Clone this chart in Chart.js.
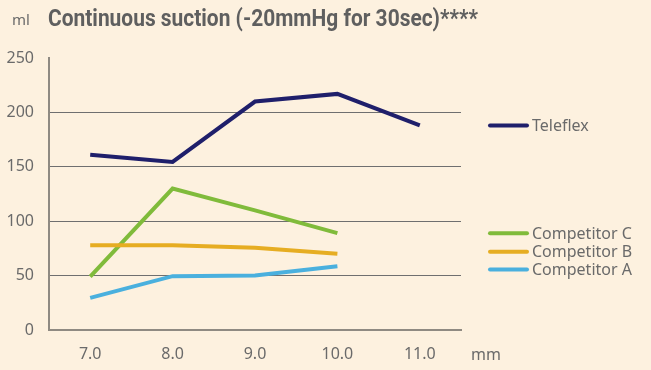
<!DOCTYPE html>
<html>
<head>
<meta charset="utf-8">
<script src="https://cdn.jsdelivr.net/npm/chart.js@4/dist/chart.umd.min.js"></script>
<style>
  html, body { margin: 0; padding: 0; background: #fdf1df; }
  #wrap { width: 651px; height: 370px; position: relative; }
</style>
</head>
<body>
<div id="wrap"><canvas id="suction"></canvas></div>
<script>
// sizes in mm
const sizes = ['7.0', '8.0', '9.0', '10.0', '11.0'];
const teleflex = [161, 154.5, 210, 217, 188];
const competitorC = [49, 130, 110, 89, null];
const competitorB = [78, 78, 75.5, 70, null];
const competitorA = [29.5, 49.5, 50, 58.5, null];

const seriesNames = ['Teleflex', 'Competitor C', 'Competitor B', 'Competitor A'];
const seriesColors = ['#1f1f6b', '#80bb3b', '#e6ad22', '#4ab0de'];
// where each legend entry sits (in ml, on the y scale)
const legendAt = [188, 89, 72, 55.5];

const titleText = 'Continuous suction (-20mmHg for 30sec)****';
const textGray = '#6a6a6a';

const annotations = {
  id: 'annotations',
  afterDraw(chart) {
    const ctx = chart.ctx;
    const y = chart.scales.y;
    ctx.save();
    ctx.textBaseline = 'middle';

    ctx.fillStyle = textGray;
    ctx.font = '15px "Noto Sans"';
    ctx.fillText('ml', 12, 21);

    // title: fit to the 430px it takes in the original
    ctx.fillStyle = '#5f5f5f';
    ctx.font = 'bold 23px Roboto';
    const w = ctx.measureText(titleText).width;
    ctx.save();
    ctx.translate(48, 20);
    ctx.scale(430 / w, 1);
    ctx.fillText(titleText, 0, 0);
    ctx.restore();

    ctx.fillStyle = textGray;
    ctx.font = '16px "Noto Sans"';
    ctx.fillText('mm', 471, 355);

    seriesNames.forEach((name, i) => {
      const py = y.getPixelForValue(legendAt[i]);
      ctx.strokeStyle = seriesColors[i];
      ctx.lineWidth = 4;
      ctx.lineCap = 'round';
      ctx.beginPath();
      ctx.moveTo(490, py);
      ctx.lineTo(527, py);
      ctx.stroke();
      ctx.fillStyle = textGray;
      ctx.font = '16px "Noto Sans"';
      ctx.fillText(name, 532, py + 1);
    });
    ctx.restore();
  }
};

const datasets = seriesNames.map((name, i) => ({
  label: name,
  data: [teleflex, competitorC, competitorB, competitorA][i],
  borderColor: seriesColors[i],
  backgroundColor: seriesColors[i],
  borderWidth: 4,
  pointRadius: 0,
  tension: 0,
  spanGaps: false
})).reverse();

new Chart(document.getElementById('suction'), {
  type: 'line',
  data: { labels: sizes, datasets },
  options: {
    responsive: true,
    maintainAspectRatio: false,
    animation: false,
    layout: { padding: { left: 0, right: 190, top: 58, bottom: 0 } },
    plugins: { legend: { display: false }, tooltip: { enabled: false } },
    scales: {
      x: {
        offset: true,
        grid: { display: false, drawTicks: false },
        border: { display: true, color: '#8f8a82', width: 2 },
        ticks: { color: textGray, font: { family: 'Noto Sans', size: 16 }, padding: 15, maxRotation: 0 },
        afterFit: (s) => { s.height = 40; }
      },
      y: {
        min: 0,
        max: 250,
        grid: {
          drawTicks: false,
          color: (c) => (c.tick.value === 0 || c.tick.value === 250) ? 'rgba(0,0,0,0)' : '#6f6f6f',
          lineWidth: 1
        },
        border: { display: true, color: '#8f8a82', width: 2 },
        ticks: { stepSize: 50, color: textGray, font: { family: 'Noto Sans', size: 16 }, padding: 15 },
        afterFit: (s) => { s.width = 49; }
      }
    }
  },
  plugins: [annotations]
});
</script>
</body>
</html>
